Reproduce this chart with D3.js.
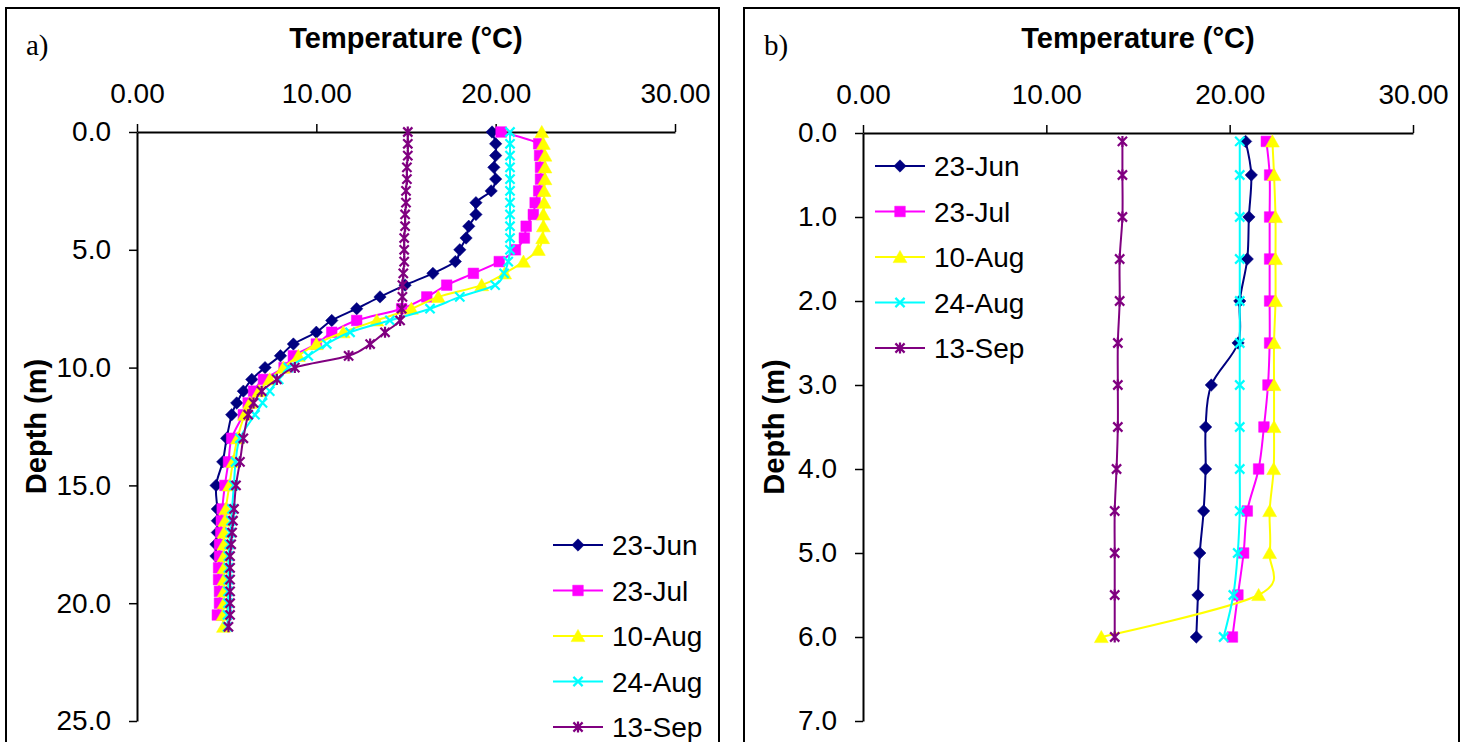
<!DOCTYPE html>
<html>
<head>
<meta charset="utf-8">
<script src="https://cdn.jsdelivr.net/npm/d3@7"></script>
<style>
  body { margin: 0; background: #fff; }
  svg { display: block; font-family: Arial, "Liberation Sans", sans-serif; }
</style>
</head>
<body>
<div id="chart"></div>
<script>
const width = 1464;
const height = 742;

const seriesNames = ["23-Jun", "23-Jul", "10-Aug", "24-Aug", "13-Sep"];
const tempTicks = [0, 10, 20, 30];

// panel a: depth (m) and temperature (°C) per date
const depthA = [0, 0.5, 1, 1.5, 2, 2.5, 3, 3.5, 4, 4.5, 5, 5.5, 6, 6.5, 7, 7.5, 8, 8.5, 9, 9.5, 10,
  10.5, 11, 11.5, 12, 13, 14, 15, 16, 16.5, 17, 17.5, 18, 18.5, 19, 19.5, 20, 20.5, 21];
const jun23A = [19.8, 20.0, 20.0, 19.9, 20.0, 19.75, 18.9, 18.9, 18.5, 18.35, 18.0, 17.75, 16.5, 14.95,
  13.55, 12.25, 10.86, 10.0, 8.72, 8.0, 7.14, 6.4, 5.93, 5.56, 5.28, 5.0, 4.78, 4.41, 4.48, 4.48, 4.48, 4.4, 4.4];
const jul23A = [20.3, 22.4, 22.45, 22.5, 22.5, 22.4, 22.2, 22.1, 21.7, 21.6, 21.1, 20.2, 18.76, 17.27,
  16.16, 14.76, 12.25, 10.86, 10.0, 8.72, 8.2, 7.05, 6.5, 6.2, 5.93, 5.28, 5.1, 4.9, 4.75, 4.7, 4.67,
  4.6, 4.6, 4.55, 4.55, 4.6, 4.6, 4.48];
const aug10A = [22.57, 22.66, 22.75, 22.75, 22.75, 22.7, 22.7, 22.66, 22.66, 22.62, 22.38, 21.55, 20.5,
  19.22, 16.8, 15.3, 13.37, 11.5, 10.0, 9.0, 8.16, 7.4, 6.8, 6.3, 6.0, 5.6, 5.35, 5.15, 4.95, 4.9, 4.85,
  4.85, 4.85, 4.85, 4.85, 4.85, 4.85, 4.8, 4.82];
const aug24A = [20.8, 20.8, 20.8, 20.8, 20.8, 20.8, 20.8, 20.8, 20.8, 20.8, 20.8, 20.7, 20.47, 19.97,
  18.0, 16.34, 14.1, 11.88, 10.58, 9.55, 8.44, 7.9, 7.4, 7.0, 6.58, 5.74, 5.5, 5.4, 5.3, 5.25, 5.2,
  5.15, 5.1, 5.1, 5.1, 5.08, 5.08, 5.05, 5.05];
const sep13A = [15.1, 15.1, 15.1, 15.05, 15.05, 15.0, 15.0, 14.95, 14.95, 14.9, 14.9, 14.9, 14.85, 14.8,
  14.8, 14.76, 14.67, 13.83, 13.0, 11.8, 8.8, 7.8, 6.95, 6.5, 6.2, 5.93, 5.74, 5.52, 5.41, 5.35, 5.3,
  5.25, 5.19, 5.19, 5.19, 5.19, 5.19, 5.19, 5.1];
const depthTicksA = [0, 5, 10, 15, 20, 25];

// panel b
const depthB = [0.1, 0.5, 1, 1.5, 2, 2.5, 3, 3.5, 4, 4.5, 5, 5.5, 6];
const jun23B = [20.87, 21.18, 21.05, 20.96, 20.55, 20.46, 19.0, 18.69, 18.69, 18.58, 18.37, 18.27, 18.18];
const jul23B = [22.0, 22.18, 22.18, 22.18, 22.18, 22.18, 22.09, 21.87, 21.58, 20.96, 20.76, 20.45, 20.15];
const aug10B = [22.33, 22.42, 22.5, 22.5, 22.5, 22.42, 22.42, 22.42, 22.4, 22.18, 22.18, 21.58, 13.0];
const aug24B = [20.55, 20.55, 20.55, 20.55, 20.55, 20.55, 20.55, 20.55, 20.55, 20.55, 20.44, 20.2, 19.67];
const sep13B = [14.15, 14.15, 14.15, 14.0, 14.0, 13.9, 13.9, 13.9, 13.83, 13.73, 13.73, 13.73, 13.73];
const depthTicksB = [0, 1, 2, 3, 4, 5, 6, 7];

const colors = ["#000080", "#ff00ff", "#ffff00", "#00ffff", "#800080"];

// marker shapes, size = half width
const diamond = { draw(c, r) { c.moveTo(0, -r); c.lineTo(r, 0); c.lineTo(0, r); c.lineTo(-r, 0); c.closePath(); } };
const square = { draw(c, r) { c.rect(-r, -r, 2 * r, 2 * r); } };
const triangle = { draw(c, r) { c.moveTo(0, -r); c.lineTo(r * 1.05, r * 0.85); c.lineTo(-r * 1.05, r * 0.85); c.closePath(); } };
const cross = { draw(c, r) { c.moveTo(-r, -r); c.lineTo(r, r); c.moveTo(-r, r); c.lineTo(r, -r); } };
const star = { draw(c, r) { c.moveTo(-r, -r); c.lineTo(r, r); c.moveTo(-r, r); c.lineTo(r, -r); c.moveTo(0, -r * 1.2); c.lineTo(0, r * 1.2); } };
const markers = [
  { type: diamond, r: 6.2, filled: true },
  { type: square, r: 5.3, filled: true },
  { type: triangle, r: 6.6, filled: true },
  { type: cross, r: 4.6, filled: false },
  { type: star, r: 4.6, filled: false }
];

const panels = [
  { label: "a)", frame: [6, 8, 713], xr: [137, 675], yr: [132, 721], depth: depthA,
    series: [jun23A, jul23A, aug10A, aug24A, sep13A], dticks: depthTicksA, legend: [553, 545] },
  { label: "b)", frame: [744, 8, 715], xr: [863, 1413], yr: [133, 721], depth: depthB,
    series: [jun23B, jul23B, aug10B, aug24B, sep13B], dticks: depthTicksB, legend: [875, 166] }
];

const svg = d3.select("#chart").append("svg")
  .attr("width", width)
  .attr("height", height);

function drawMarker(g, m, color, px, py) {
  g.append("path")
    .attr("transform", `translate(${px},${py})`)
    .attr("d", d3.symbol().type(m.type).size(m.r)())
    .attr("fill", m.filled ? color : "none")
    .attr("stroke", color)
    .attr("stroke-width", m.filled ? 0.5 : 2.2);
}

panels.forEach(p => {
  const g = svg.append("g");

  g.append("rect")
    .attr("x", p.frame[0]).attr("y", p.frame[1])
    .attr("width", p.frame[2]).attr("height", height + 20)
    .attr("fill", "none").attr("stroke", "#000").attr("stroke-width", 2);

  const x = d3.scaleLinear().domain([0, 30]).range(p.xr);
  const y = d3.scaleLinear().domain([0, d3.max(p.dticks)]).range(p.yr);

  const xAxis = g.append("g")
    .attr("transform", `translate(0,${p.yr[0]})`)
    .call(d3.axisTop(x).tickValues(tempTicks).tickFormat(d3.format(".2f"))
      .tickSize(8).tickSizeOuter(0).tickPadding(21));
  const yAxis = g.append("g")
    .attr("transform", `translate(${p.xr[0]},0)`)
    .call(d3.axisLeft(y).tickValues(p.dticks).tickFormat(d3.format(".1f"))
      .tickSize(8).tickSizeOuter(0).tickPadding(18));
  [xAxis, yAxis].forEach(a => {
    a.select(".domain").attr("stroke-width", 2);
    a.selectAll(".tick line").attr("stroke-width", 1.5);
    a.selectAll("text").style("font-size", "28px").attr("fill", "#000");
  });

  g.append("text")
    .attr("x", (p.xr[0] + p.xr[1]) / 2).attr("y", 48)
    .attr("text-anchor", "middle")
    .style("font-size", "29px").style("font-weight", "bold")
    .text("Temperature (°C)");

  const cy = (p.yr[0] + p.yr[1]) / 2;
  g.append("text")
    .attr("transform", `translate(${p.frame[0] + 40},${cy}) rotate(-90)`)
    .attr("text-anchor", "middle")
    .style("font-size", "29px").style("font-weight", "bold")
    .text("Depth (m)");

  g.append("text")
    .attr("x", p.frame[0] + 20).attr("y", 55)
    .style("font-family", "'Liberation Serif', 'Times New Roman', serif")
    .style("font-size", "29px")
    .text(p.label);

  const line = d3.line()
    .x(d => x(d[1]))
    .y(d => y(d[0]))
    .curve(d3.curveCatmullRom.alpha(0));

  p.series.forEach((vals, i) => {
    const pts = vals.map((v, k) => [p.depth[k], v]);
    const sg = g.append("g");
    sg.append("path")
      .attr("d", line(pts))
      .attr("fill", "none")
      .attr("stroke", colors[i])
      .attr("stroke-width", 2);
    pts.forEach(d => drawMarker(sg, markers[i], colors[i], x(d[1]), y(d[0])));
  });

  // legend
  const [lx, ly] = p.legend;
  seriesNames.forEach((name, i) => {
    const ry = ly + i * 45.5;
    g.append("line")
      .attr("x1", lx).attr("x2", lx + 50)
      .attr("y1", ry).attr("y2", ry)
      .attr("stroke", colors[i]).attr("stroke-width", 2);
    drawMarker(g, markers[i], colors[i], lx + 25, ry);
    g.append("text")
      .attr("x", lx + 59).attr("y", ry + 10)
      .style("font-size", "28px")
      .text(name);
  });
});
</script>
</body>
</html>
